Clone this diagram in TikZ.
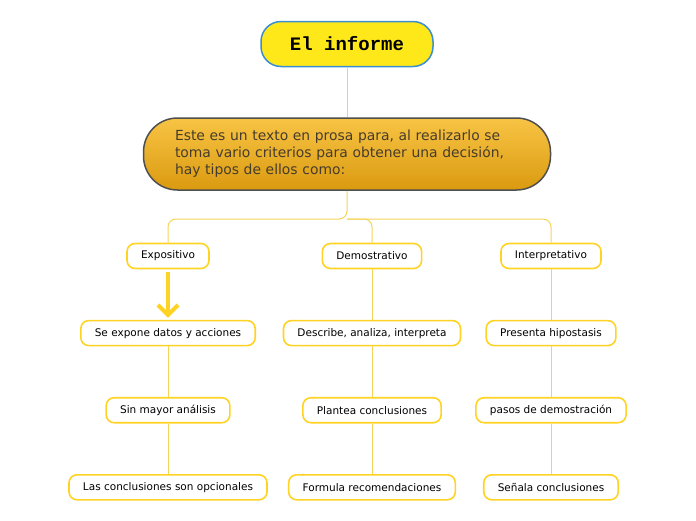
\documentclass[tikz,border=0pt]{standalone}
\usepackage{fontspec}
\setmainfont{DejaVu Sans}
\newfontfamily\titlefont{Liberation Mono}
\usetikzlibrary{positioning, arrows.meta}

\definecolor{sunyellow}{HTML}{FFE81A}
\definecolor{edgeblue}{HTML}{3A8FD0}
\definecolor{boxyellow}{HTML}{FFD324}
\definecolor{linkyellow}{HTML}{F4D45A}
\definecolor{ambertop}{HTML}{F8C444}
\definecolor{amberbot}{HTML}{DA9A10}
\definecolor{mainedge}{HTML}{4F4F4F}
\definecolor{maintext}{HTML}{473C2C}

\begin{document}
\begin{tikzpicture}[
            x=1pt, y=-1pt,
            node distance=50.5pt,
            titlebox/.style={
                    rectangle,
                    rounded corners=20pt,
                    draw=edgeblue,
                    line width=1.5pt,
                    fill=sunyellow,
                    font=\titlefont\bfseries\fontsize{19}{22}\selectfont,
                    minimum width=172pt,
                    minimum height=45pt
                },
            mainbox/.style={
                    rectangle,
                    rounded corners=34pt,
                    draw=mainedge,
                    line width=1.5pt,
                    top color=ambertop,
                    bottom color=amberbot,
                    text=maintext,
                    align=left,
                    text width=344pt,
                    inner xsep=31.5pt,
                    font=\fontsize{13.9}{17}\selectfont,
                    minimum height=72pt
                },
            item/.style={
                    rectangle,
                    rounded corners=8pt,
                    draw=boxyellow,
                    line width=1.6pt,
                    fill=white,
                    font=\fontsize{10.5}{12}\selectfont,
                    inner xsep=14pt,
                    minimum height=25pt
                },
            link/.style={
                    draw=linkyellow,
                    line width=1pt,
                    rounded corners=8pt
                },
            bigarrow/.style={
                    draw=boxyellow,
                    line width=4pt,
                    -{Straight Barb[length=10pt,width=20pt]},
                    shorten <=3pt,
                    shorten >=2pt
                }
        ]
        \useasboundingbox (0,0) rectangle (696,520);

        % Nodes
        \node [titlebox] (title) at (347,44) {El informe};
        \node [mainbox] (main) at (347,154)
            {Este es un texto en prosa para, al realizarlo se\\
             toma vario criterios para obtener una decisión,\\
             hay tipos de ellos como:};
        \coordinate (fork) at (347,219);

        \node [item] (expo) at (168,256) {Expositivo};
        \node [item] (demo) at (372,256) {Demostrativo};
        \node [item] (inte) at (551,256) {Interpretativo};

        \node [item, below=of expo] (sexp) {Se expone datos y acciones};
        \node [item, below=of sexp] (smay) {Sin mayor análisis};
        \node [item, below=of smay] (lasc) {Las conclusiones son opcionales};

        \node [item, below=of demo] (desc) {Describe, analiza, interpreta};
        \node [item, below=of desc] (plan) {Plantea conclusiones};
        \node [item, below=of plan] (form) {Formula recomendaciones};

        \node [item, below=of inte] (hipo) {Presenta hipostasis};
        \node [item, below=of hipo] (paso) {pasos de demostración};
        \node [item, below=of paso] (sena) {Señala conclusiones};

        % Tree lines
        \path [link] (title.south) -- (main.north);
        \path [link] (main.south) -- (fork) -| (expo.north);
        \path [link] (fork) -| (demo.north);
        \path [link] (fork) -| (inte.north);

        \path [link] (sexp) -- (smay);
        \path [link] (smay) -- (lasc);
        \path [link] (demo) -- (desc);
        \path [link] (desc) -- (plan);
        \path [link] (plan) -- (form);
        \path [link] (inte) -- (hipo);
        \path [link] (hipo) -- (paso);
        \path [link] (paso) -- (sena);

        % Arrow
        \path [bigarrow] (expo.south) -- (sexp.north);
    \end{tikzpicture}
\end{document}
